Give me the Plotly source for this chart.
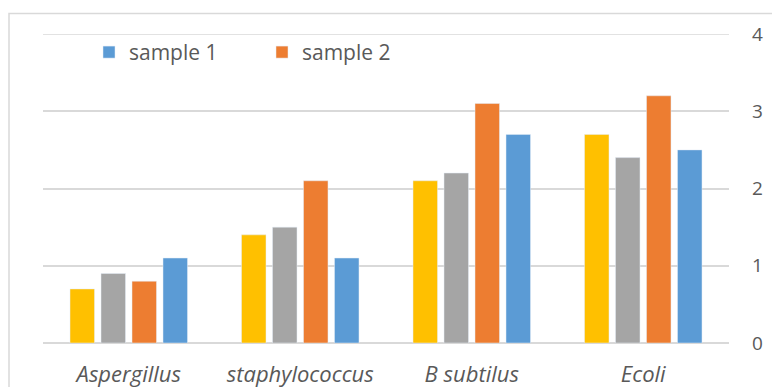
import plotly.graph_objects as go

categories = ["Aspergillus", "staphylococcus", "B subtilus", "Ecoli"]
series_yellow = [0.7, 1.4, 2.1, 2.7]
series_gray = [0.9, 1.5, 2.2, 2.4]
sample_2 = [0.8, 2.1, 3.1, 3.2]
sample_1 = [1.1, 1.1, 2.7, 2.5]
y_ticks = [0, 1, 2, 3, 4]

W, H = 772, 387
L, R, T, B = 43, 43, 33.5, 43.5
pw, ph = W - L - R, H - T - B

fig = go.Figure()
fig.add_trace(go.Bar(x=categories, y=series_yellow, name="series 3", marker_color="#FFC000", showlegend=False))
fig.add_trace(go.Bar(x=categories, y=series_gray, name="series 4", marker_color="#A5A5A5", showlegend=False))
fig.add_trace(go.Bar(x=categories, y=sample_2, name="sample 2", marker_color="#ED7D31", legendrank=2))
fig.add_trace(go.Bar(x=categories, y=sample_1, name="sample 1", marker_color="#5B9BD5", legendrank=1))

fig.update_layout(
    width=W, height=H,
    margin=dict(l=L, r=R, t=T, b=B, autoexpand=False),
    paper_bgcolor="white", plot_bgcolor="white",
    barmode="group", bargap=0.277, bargroupgap=0.21,
    font=dict(family="Open Sans, Liberation Sans, sans-serif", color="#595959"),
    showlegend=True,
    legend=dict(orientation="h", x=(89 - L) / pw, y=(H - B - 52) / ph, xanchor="left", yanchor="middle",
                font=dict(size=21, color="#595959"), itemwidth=30, bgcolor="rgba(0,0,0,0)",
                tracegroupgap=0, entrywidthmode="pixels", entrywidth=128),
    xaxis=dict(showgrid=False, showline=False, ticks="", automargin=False,
               tickfont=dict(size=22, color="#595959", style="italic"), ticklabelstandoff=16),
    yaxis=dict(side="right", range=[0, 4], tickvals=y_ticks, showgrid=True, gridcolor="#D9D9D9", gridwidth=1.5,
               zeroline=True, zerolinecolor="#D9D9D9", zerolinewidth=1.5, showline=False, automargin=False,
               tickfont=dict(size=19, color="#595959"), ticklabelstandoff=22),
    shapes=[
        dict(type="rect", xref="paper", yref="paper",
             x0=(9 - L) / pw, x1=(W + 5 - L) / pw, y0=-(B + 5) / ph, y1=(H - B - 13) / ph,
             line=dict(color="#D9D9D9", width=1.5), fillcolor="rgba(0,0,0,0)", layer="below"),
        dict(type="line", xref="paper", yref="y", x0=0, x1=1, y0=y_ticks[-1], y1=y_ticks[-1],
             line=dict(color="#D9D9D9", width=1.5)),
    ],
)

fig.write_html("out.html", config={"displayModeBar": False},
               post_script="document.body.style.margin='0';document.body.style.overflow='hidden';")
